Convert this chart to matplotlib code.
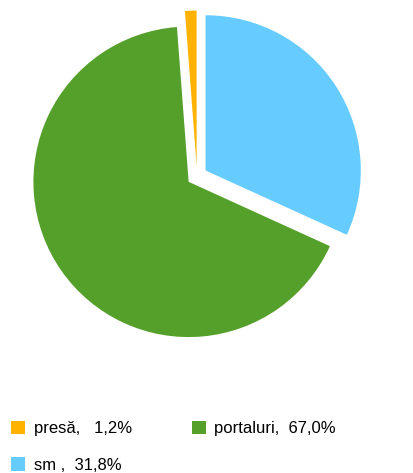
import matplotlib.pyplot as plt

labels = ["presă", "portaluri", "sm"]
values = [1.2, 67.0, 31.8]
colors = ["#FFB300", "#55A02B", "#66CCFF"]

plt.rcParams["font.family"] = ["Liberation Sans", "DejaVu Sans"]

fig = plt.figure(figsize=(4.13, 4.73), dpi=100)
ax = fig.add_axes([1 / 413, 1 - 372 / 473, 392 / 413, 392 / 473])

wedges, _ = ax.pie(values, colors=colors, startangle=90, counterclock=True,
                   explode=[0.065] * len(values), radius=0.99,
                   wedgeprops=dict(linewidth=0))
ax.set_xlim(-1.25, 1.25)
ax.set_ylim(-1.25, 1.25)
ax.set_aspect("equal")

# legend text uses comma decimals, as in the original
legend_text = {
    "presă": "presă,   1,2%",
    "portaluri": "portaluri,  67,0%",
    "sm": "sm ,  31,8%",
}
order = [0, 2, 1]
fig.legend([wedges[i] for i in order],
           [legend_text[labels[i]] for i in order],
           ncol=2, loc="upper left",
           bbox_to_anchor=(11 / 413, 1 - 421 / 473),
           frameon=False, fontsize=12, handlelength=0.85, handleheight=0.85,
           handletextpad=0.5, columnspacing=3.6, labelspacing=1.25,
           borderpad=0, borderaxespad=0)

fig.savefig("out.png", dpi=100)
